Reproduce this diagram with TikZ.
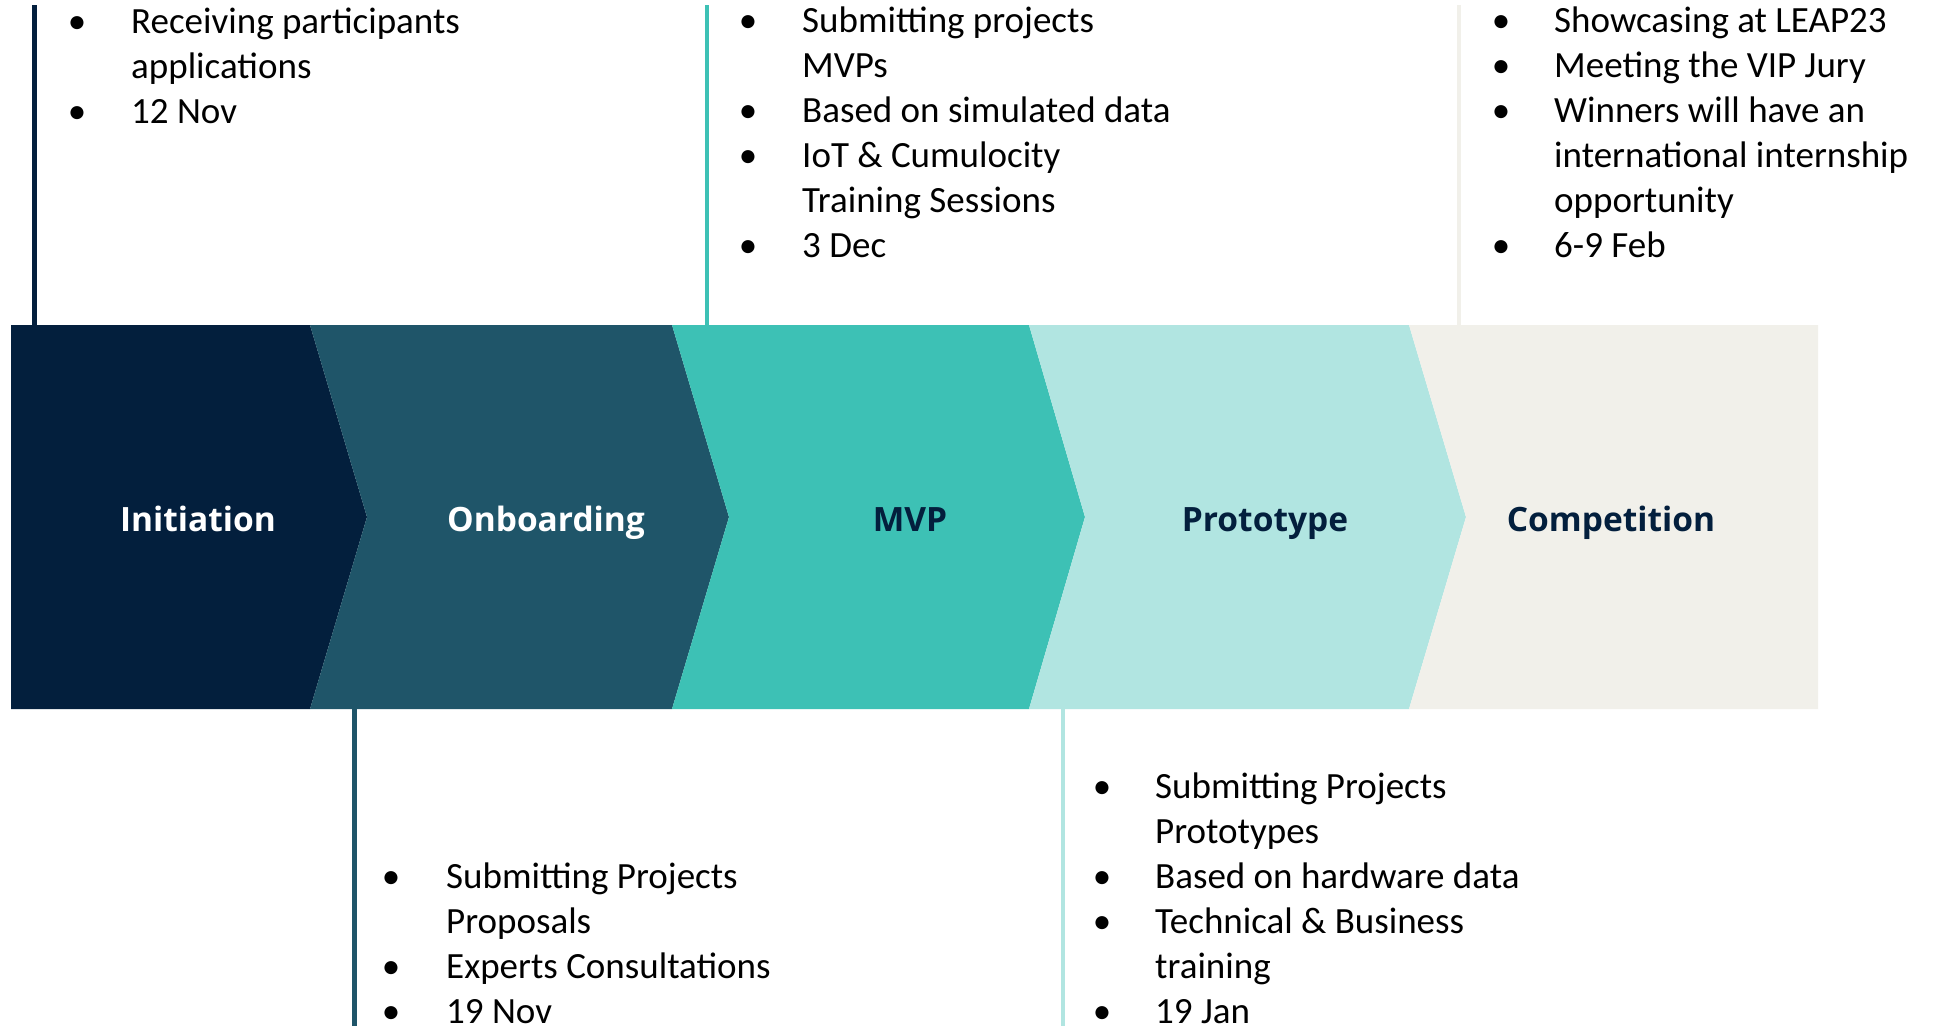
\documentclass[tikz,border=0pt]{standalone}
\usepackage{fontspec}
\setmainfont{Carlito}
\newfontfamily\headfont{Open Sans}
\definecolor{cnavy}{RGB}{3,31,61}
\definecolor{conb}{RGB}{31,85,105}
\definecolor{cmvp}{RGB}{61,193,181}
\definecolor{cpro}{RGB}{177,229,225}
\definecolor{ccom}{RGB}{241,240,234}
\newcommand\bodyfont{\fontsize{37}{45}\selectfont}
\begin{document}
\begin{tikzpicture}[x=1pt,y=-1pt,
  seg/.style={fill=#1,draw=none},
  lbl/.style={font=\headfont\bfseries\fontsize{33.5}{40}\selectfont,anchor=base,inner sep=0pt},
  txt/.style={font=\bodyfont,anchor=base west,inner sep=0pt,text=black},
  bul/.style={font=\bodyfont,anchor=base,inner sep=0pt,text=black},
  vline/.style={line width=4.5pt,draw=#1}]
\useasboundingbox (0,0) rectangle (1934,1026);
\fill[white] (0,0) rectangle (1934,1026);
% chevron band
\fill[seg=cnavy] (11,325) -- (310,325) -- (367,517) -- (310,709) -- (11,709) -- cycle;
\fill[seg=conb] (310,325) -- (672,325) -- (729,517) -- (672,709) -- (310,709) -- (367,517) -- cycle;
\fill[seg=cmvp] (672,325) -- (1029,325) -- (1085,517) -- (1029,709) -- (672,709) -- (729,517) -- cycle;
\fill[seg=cpro] (1029,325) -- (1409,325) -- (1466,517) -- (1409,709) -- (1029,709) -- (1085,517) -- cycle;
\fill[seg=ccom] (1409,325) -- (1818,325) -- (1818,709) -- (1409,709) -- (1466,517) -- cycle;
% labels
\node[lbl,text=white] (ini) at (198,531) {Initiation};
\node[lbl,text=white] (onb) at (546,531) {Onboarding};
\node[lbl,text=cnavy] (mvp) at (910,531) {MVP};
\node[lbl,text=cnavy] (pro) at (1265,531) {Prototype};
\node[lbl,text=cnavy] (com) at (1611,531) {Competition};
% vertical lines
\coordinate (v1a) at (34.5,5); \coordinate (v1b) at (34.5,325);
\coordinate (v2a) at (707,5); \coordinate (v2b) at (707,325);
\coordinate (v3a) at (1459,5); \coordinate (v3b) at (1459,325);
\coordinate (v4a) at (354.5,709); \coordinate (v4b) at (354.5,1026);
\coordinate (v5a) at (1063,709); \coordinate (v5b) at (1063,1026);
\draw[vline=cnavy] (v1a) -- (v1b);
\draw[vline=cmvp] (v2a) -- (v2b);
\draw[vline=ccom] (v3a) -- (v3b);
\draw[vline=conb] (v4a) -- (v4b);
\draw[vline=cpro] (v5a) -- (v5b);
% block 1 (Initiation)
\node[bul] (a1b1) at (77,33) {•};
\node[txt] (a1t1) at (131,33) {Receiving participants};
\node[txt] (a1t2) at (131,78) {applications};
\node[bul] (a1b3) at (77,123) {•};
\node[txt] (a1t3) at (131,123) {12 Nov};
% block 2 (MVP)
\node[bul] (a2b1) at (748,32) {•};
\node[txt] (a2t1) at (802,32) {Submitting projects};
\node[txt] (a2t2) at (802,77) {MVPs};
\node[bul] (a2b3) at (748,122) {•};
\node[txt] (a2t3) at (802,122) {Based on simulated data};
\node[bul] (a2b4) at (748,167) {•};
\node[txt] (a2t4) at (802,167) {IoT \& Cumulocity};
\node[txt] (a2t5) at (802,212) {Training Sessions};
\node[bul] (a2b6) at (748,257) {•};
\node[txt] (a2t6) at (802,257) {3 Dec};
% block 3 (Competition)
\node[bul] (a3b1) at (1501,32) {•};
\node[txt] (a3t1) at (1554,32) {Showcasing at LEAP23};
\node[bul] (a3b2) at (1501,77) {•};
\node[txt] (a3t2) at (1554,77) {Meeting the VIP Jury};
\node[bul] (a3b3) at (1501,122) {•};
\node[txt] (a3t3) at (1554,122) {Winners will have an};
\node[txt] (a3t4) at (1554,167) {international internship};
\node[txt] (a3t5) at (1554,212) {opportunity};
\node[bul] (a3b6) at (1501,257) {•};
\node[txt] (a3t6) at (1554,257) {6-9 Feb};
% block 4 (Onboarding)
\node[bul] (a4b1) at (391,888) {•};
\node[txt] (a4t1) at (446,888) {Submitting Projects};
\node[txt] (a4t2) at (446,933) {Proposals};
\node[bul] (a4b3) at (391,978) {•};
\node[txt] (a4t3) at (446,978) {Experts Consultations};
\node[bul] (a4b4) at (391,1023) {•};
\node[txt] (a4t4) at (446,1023) {19 Nov};
% block 5 (Prototype)
\node[bul] (a5b1) at (1102,798) {•};
\node[txt] (a5t1) at (1155,798) {Submitting Projects};
\node[txt] (a5t2) at (1155,843) {Prototypes};
\node[bul] (a5b3) at (1102,888) {•};
\node[txt] (a5t3) at (1155,888) {Based on hardware data};
\node[bul] (a5b4) at (1102,933) {•};
\node[txt] (a5t4) at (1155,933) {Technical \& Business};
\node[txt] (a5t5) at (1155,978) {training};
\node[bul] (a5b6) at (1102,1023) {•};
\node[txt] (a5t6) at (1155,1023) {19 Jan};
\end{tikzpicture}
\end{document}
